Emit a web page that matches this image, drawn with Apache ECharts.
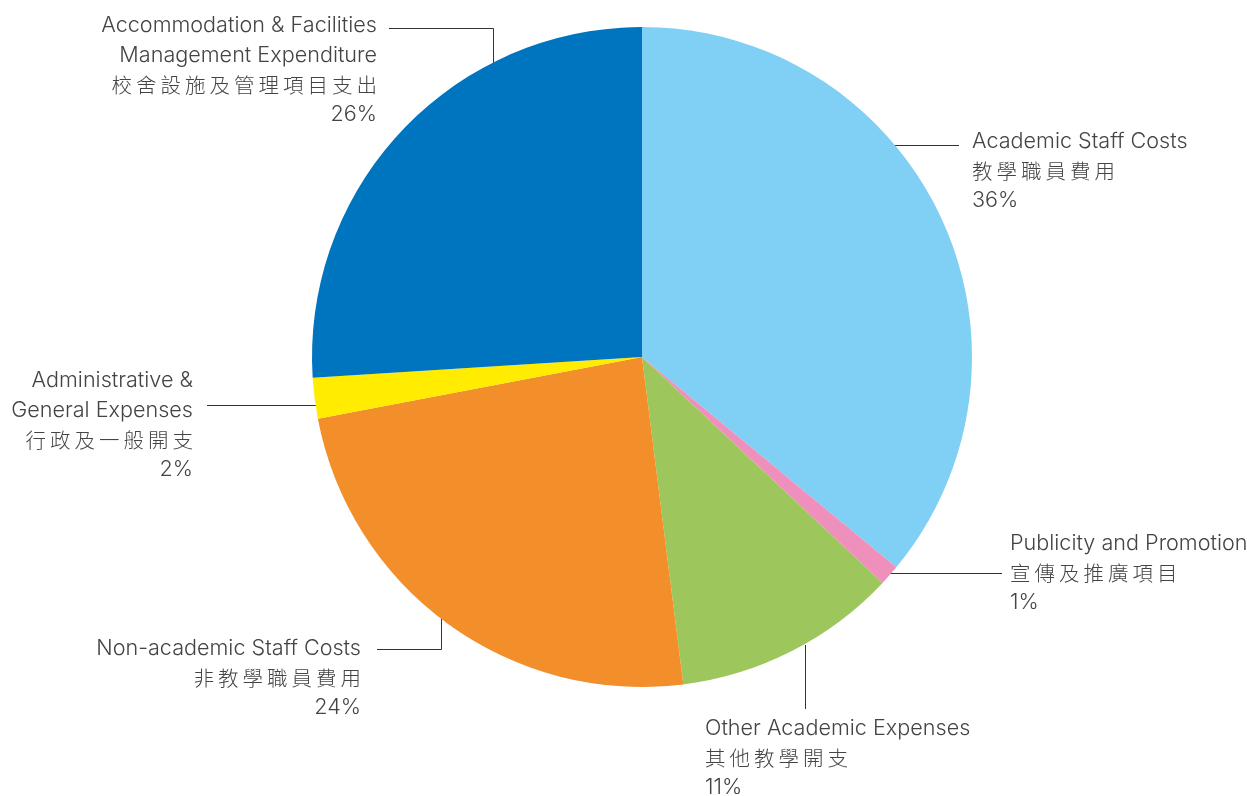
<!DOCTYPE html>
<html>
<head>
<meta charset="utf-8">
<script src="https://cdn.jsdelivr.net/npm/echarts@6/dist/echarts.min.js"></script>
<style>
  html, body { margin: 0; padding: 0; background: #ffffff; }
  #chart { width: 1247px; height: 796px; }
</style>
</head>
<body>
<div id="chart"></div>
<script>
// Expenditure breakdown (share of total, %)
const namesEn = [
  ['Academic Staff Costs'],
  ['Publicity and Promotion'],
  ['Other Academic Expenses'],
  ['Non-academic Staff Costs'],
  ['Administrative &', 'General Expenses'],
  ['Accommodation & Facilities', 'Management Expenditure']
];
const namesZh = [
  '教學職員費用',
  '宣傳及推廣項目',
  '其他教學開支',
  '非教學職員費用',
  '行政及一般開支',
  '校舍設施及管理項目支出'
];
const shares = [36, 1, 11, 24, 2, 26];

// Slice colours, in the same order as the data
const sliceColors = ['#80cff4', '#ef8fbb', '#9dc65c', '#f28f2b', '#ffec00', '#0075bf'];

// Label placement and leader-line routing
const labelSpots = [
  { x: 972, y: 127, align: 'left',  line: [[890, 145.5], [925, 145.5], [959, 145.5]] },
  { x: 1010, y: 529, align: 'left', line: [[889, 573.5], [945, 573.5], [1002, 573.5]] },
  { x: 705, y: 714, align: 'left',  line: [[805.5, 645], [805.5, 677], [805.5, 709]] },
  { x: 361, y: 634, align: 'right', line: [[441.5, 618], [441.5, 649.5], [377, 649.5]] },
  { x: 193, y: 366, align: 'right', line: [[317, 405.5], [262, 405.5], [207, 405.5]] },
  { x: 377, y: 11, align: 'right',  line: [[493.5, 67], [493.5, 28.5], [389, 28.5]] }
];

const fontLatin = 'Inter, Roboto, sans-serif';
const fontCJK = '"Noto Sans CJK TC", "Noto Sans CJK SC", sans-serif';
const textColor = '#444444';

const pieData = shares.map((v, i) => ({
  value: v,
  name: namesEn[i].join(' '),
  itemStyle: { color: sliceColors[i] }
}));

// Chinese characters are set slightly apart, with a small fixed gap between them
function chineseLine(text) {
  return text.split('').map(ch => '{zh|' + ch + '}').join('{gap| }');
}

const chart = echarts.init(document.getElementById('chart'), null, { renderer: 'canvas' });

chart.setOption({
  backgroundColor: '#ffffff',
  animation: false,
  series: [{
    type: 'pie',
    center: [642, 357],
    radius: 330,
    startAngle: 90,
    clockwise: true,
    avoidLabelOverlap: false,
    itemStyle: { borderWidth: 0 },
    emphasis: { disabled: true },
    data: pieData,
    label: {
      show: true,
      position: 'outside',
      color: textColor,
      formatter: function (p) {
        const i = p.dataIndex;
        const en = namesEn[i].map(s => '{en|' + s + '}');
        const zh = chineseLine(namesZh[i]);
        return en.concat([zh, '{en|' + shares[i] + '%}']).join('\n');
      },
      rich: {
        en: { fontFamily: fontLatin, fontWeight: 300, fontSize: 21.6, lineHeight: 29.5, color: textColor },
        zh: { fontFamily: fontCJK, fontWeight: 300, fontSize: 20.5, lineHeight: 29.5, color: textColor },
        gap: { fontSize: 10, width: 4, lineHeight: 29.5 }
      }
    },
    labelLine: {
      show: true,
      length: 20,
      length2: 20,
      smooth: false,
      lineStyle: { color: '#333333', width: 1 }
    },
    labelLayout: function (p) {
      const s = labelSpots[p.dataIndex];
      return {
        x: s.x,
        y: s.y,
        align: s.align,
        verticalAlign: 'top',
        labelLinePoints: s.line
      };
    }
  }]
});
</script>
</body>
</html>
